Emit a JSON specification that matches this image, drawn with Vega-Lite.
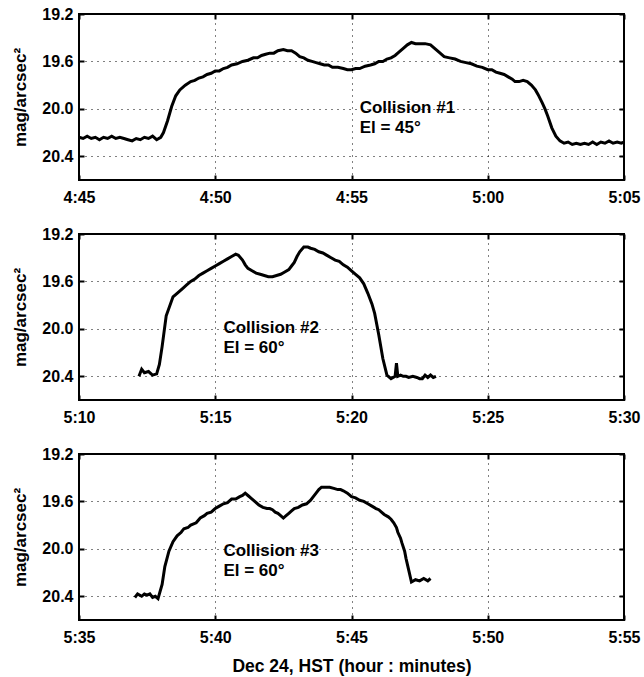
{
  "$schema": "https://vega.github.io/schema/vega-lite/v6.json",
  "background": "white",
  "padding": {"left": 10, "top": 5, "right": 10, "bottom": 5},
  "bounds": "flush",
  "spacing": 54,
  "config": {
    "font": "Liberation Sans",
    "view": {"stroke": "black", "strokeWidth": 2},
    "axis": {
      "labelFont": "Liberation Sans", "labelFontWeight": "bold", "labelFontSize": 16, "labelColor": "black",
      "titleFont": "Liberation Sans", "titleFontWeight": "bold", "titleFontSize": 17, "titleColor": "black",
      "domain": false, "ticks": false, "tickColor": "black", "tickWidth": 2, "tickSize": 5,
      "gridColor": "black", "gridDash": [1, 5], "gridWidth": 1, "gridOpacity": 1
    }
  },
  "datasets": {
    "curve": [
      {"panel": 1, "t": 285.0, "mag": 20.24}, {"panel": 1, "t": 285.15, "mag": 20.25}, {"panel": 1, "t": 285.3, "mag": 20.23}, {"panel": 1, "t": 285.45, "mag": 20.25}, {"panel": 1, "t": 285.6, "mag": 20.24}, {"panel": 1, "t": 285.75, "mag": 20.26}, {"panel": 1, "t": 285.9, "mag": 20.24}, {"panel": 1, "t": 286.05, "mag": 20.25}, {"panel": 1, "t": 286.2, "mag": 20.23}, {"panel": 1, "t": 286.35, "mag": 20.25}, {"panel": 1, "t": 286.5, "mag": 20.24}, {"panel": 1, "t": 286.65, "mag": 20.25}, {"panel": 1, "t": 286.8, "mag": 20.26}, {"panel": 1, "t": 286.95, "mag": 20.27}, {"panel": 1, "t": 287.1, "mag": 20.25}, {"panel": 1, "t": 287.25, "mag": 20.26}, {"panel": 1, "t": 287.4, "mag": 20.24}, {"panel": 1, "t": 287.55, "mag": 20.25}, {"panel": 1, "t": 287.7, "mag": 20.23}, {"panel": 1, "t": 287.85, "mag": 20.26}, {"panel": 1, "t": 288.0, "mag": 20.24}, {"panel": 1, "t": 288.1, "mag": 20.2}, {"panel": 1, "t": 288.25, "mag": 20.1}, {"panel": 1, "t": 288.4, "mag": 19.98}, {"panel": 1, "t": 288.55, "mag": 19.89}, {"panel": 1, "t": 288.7, "mag": 19.84}, {"panel": 1, "t": 288.9, "mag": 19.8}, {"panel": 1, "t": 289.1, "mag": 19.77}, {"panel": 1, "t": 289.25, "mag": 19.76}, {"panel": 1, "t": 289.4, "mag": 19.74}, {"panel": 1, "t": 289.55, "mag": 19.73}, {"panel": 1, "t": 289.7, "mag": 19.71}, {"panel": 1, "t": 289.85, "mag": 19.7}, {"panel": 1, "t": 290.0, "mag": 19.68}, {"panel": 1, "t": 290.15, "mag": 19.68}, {"panel": 1, "t": 290.3, "mag": 19.66}, {"panel": 1, "t": 290.45, "mag": 19.65}, {"panel": 1, "t": 290.6, "mag": 19.63}, {"panel": 1, "t": 290.8, "mag": 19.62}, {"panel": 1, "t": 291.0, "mag": 19.6}, {"panel": 1, "t": 291.2, "mag": 19.59}, {"panel": 1, "t": 291.4, "mag": 19.57}, {"panel": 1, "t": 291.55, "mag": 19.57}, {"panel": 1, "t": 291.7, "mag": 19.55}, {"panel": 1, "t": 291.85, "mag": 19.54}, {"panel": 1, "t": 292.0, "mag": 19.53}, {"panel": 1, "t": 292.15, "mag": 19.53}, {"panel": 1, "t": 292.3, "mag": 19.51}, {"panel": 1, "t": 292.5, "mag": 19.5}, {"panel": 1, "t": 292.65, "mag": 19.51}, {"panel": 1, "t": 292.8, "mag": 19.51}, {"panel": 1, "t": 292.95, "mag": 19.53}, {"panel": 1, "t": 293.1, "mag": 19.56}, {"panel": 1, "t": 293.25, "mag": 19.57}, {"panel": 1, "t": 293.4, "mag": 19.59}, {"panel": 1, "t": 293.55, "mag": 19.6}, {"panel": 1, "t": 293.7, "mag": 19.61}, {"panel": 1, "t": 293.85, "mag": 19.62}, {"panel": 1, "t": 294.0, "mag": 19.63}, {"panel": 1, "t": 294.15, "mag": 19.63}, {"panel": 1, "t": 294.3, "mag": 19.65}, {"panel": 1, "t": 294.5, "mag": 19.65}, {"panel": 1, "t": 294.7, "mag": 19.66}, {"panel": 1, "t": 294.85, "mag": 19.67}, {"panel": 1, "t": 295.0, "mag": 19.67}, {"panel": 1, "t": 295.15, "mag": 19.66}, {"panel": 1, "t": 295.3, "mag": 19.66}, {"panel": 1, "t": 295.5, "mag": 19.64}, {"panel": 1, "t": 295.7, "mag": 19.63}, {"panel": 1, "t": 295.85, "mag": 19.62}, {"panel": 1, "t": 296.0, "mag": 19.6}, {"panel": 1, "t": 296.15, "mag": 19.6}, {"panel": 1, "t": 296.3, "mag": 19.58}, {"panel": 1, "t": 296.45, "mag": 19.57}, {"panel": 1, "t": 296.6, "mag": 19.55}, {"panel": 1, "t": 296.75, "mag": 19.52}, {"panel": 1, "t": 296.9, "mag": 19.49}, {"panel": 1, "t": 297.05, "mag": 19.46}, {"panel": 1, "t": 297.2, "mag": 19.44}, {"panel": 1, "t": 297.35, "mag": 19.45}, {"panel": 1, "t": 297.5, "mag": 19.45}, {"panel": 1, "t": 297.7, "mag": 19.45}, {"panel": 1, "t": 297.9, "mag": 19.46}, {"panel": 1, "t": 298.05, "mag": 19.49}, {"panel": 1, "t": 298.2, "mag": 19.52}, {"panel": 1, "t": 298.4, "mag": 19.56}, {"panel": 1, "t": 298.6, "mag": 19.57}, {"panel": 1, "t": 298.8, "mag": 19.58}, {"panel": 1, "t": 299.0, "mag": 19.6}, {"panel": 1, "t": 299.2, "mag": 19.61}, {"panel": 1, "t": 299.4, "mag": 19.62}, {"panel": 1, "t": 299.6, "mag": 19.64}, {"panel": 1, "t": 299.8, "mag": 19.65}, {"panel": 1, "t": 300.0, "mag": 19.67}, {"panel": 1, "t": 300.15, "mag": 19.67}, {"panel": 1, "t": 300.3, "mag": 19.69}, {"panel": 1, "t": 300.45, "mag": 19.7}, {"panel": 1, "t": 300.6, "mag": 19.71}, {"panel": 1, "t": 300.75, "mag": 19.73}, {"panel": 1, "t": 300.9, "mag": 19.75}, {"panel": 1, "t": 301.0, "mag": 19.77}, {"panel": 1, "t": 301.15, "mag": 19.77}, {"panel": 1, "t": 301.3, "mag": 19.76}, {"panel": 1, "t": 301.45, "mag": 19.77}, {"panel": 1, "t": 301.6, "mag": 19.8}, {"panel": 1, "t": 301.75, "mag": 19.84}, {"panel": 1, "t": 301.85, "mag": 19.88}, {"panel": 1, "t": 302.0, "mag": 19.95}, {"panel": 1, "t": 302.1, "mag": 20.0}, {"panel": 1, "t": 302.2, "mag": 20.06}, {"panel": 1, "t": 302.35, "mag": 20.16}, {"panel": 1, "t": 302.5, "mag": 20.23}, {"panel": 1, "t": 302.65, "mag": 20.27}, {"panel": 1, "t": 302.8, "mag": 20.29}, {"panel": 1, "t": 302.95, "mag": 20.28}, {"panel": 1, "t": 303.1, "mag": 20.3}, {"panel": 1, "t": 303.25, "mag": 20.29}, {"panel": 1, "t": 303.4, "mag": 20.3}, {"panel": 1, "t": 303.55, "mag": 20.29}, {"panel": 1, "t": 303.7, "mag": 20.3}, {"panel": 1, "t": 303.85, "mag": 20.28}, {"panel": 1, "t": 304.0, "mag": 20.3}, {"panel": 1, "t": 304.15, "mag": 20.28}, {"panel": 1, "t": 304.3, "mag": 20.29}, {"panel": 1, "t": 304.45, "mag": 20.27}, {"panel": 1, "t": 304.6, "mag": 20.29}, {"panel": 1, "t": 304.75, "mag": 20.28}, {"panel": 1, "t": 304.9, "mag": 20.29}, {"panel": 1, "t": 305.0, "mag": 20.28},
      {"panel": 2, "t": 312.2, "mag": 20.4}, {"panel": 2, "t": 312.3, "mag": 20.34}, {"panel": 2, "t": 312.4, "mag": 20.37}, {"panel": 2, "t": 312.55, "mag": 20.36}, {"panel": 2, "t": 312.7, "mag": 20.39}, {"panel": 2, "t": 312.85, "mag": 20.38}, {"panel": 2, "t": 312.95, "mag": 20.3}, {"panel": 2, "t": 313.05, "mag": 20.15}, {"panel": 2, "t": 313.2, "mag": 19.89}, {"panel": 2, "t": 313.45, "mag": 19.73}, {"panel": 2, "t": 313.6, "mag": 19.7}, {"panel": 2, "t": 313.8, "mag": 19.66}, {"panel": 2, "t": 313.95, "mag": 19.63}, {"panel": 2, "t": 314.1, "mag": 19.6}, {"panel": 2, "t": 314.25, "mag": 19.58}, {"panel": 2, "t": 314.4, "mag": 19.55}, {"panel": 2, "t": 314.55, "mag": 19.53}, {"panel": 2, "t": 314.7, "mag": 19.51}, {"panel": 2, "t": 314.85, "mag": 19.49}, {"panel": 2, "t": 315.0, "mag": 19.47}, {"panel": 2, "t": 315.15, "mag": 19.45}, {"panel": 2, "t": 315.3, "mag": 19.43}, {"panel": 2, "t": 315.45, "mag": 19.41}, {"panel": 2, "t": 315.6, "mag": 19.39}, {"panel": 2, "t": 315.75, "mag": 19.37}, {"panel": 2, "t": 315.85, "mag": 19.38}, {"panel": 2, "t": 316.0, "mag": 19.42}, {"panel": 2, "t": 316.1, "mag": 19.46}, {"panel": 2, "t": 316.2, "mag": 19.49}, {"panel": 2, "t": 316.35, "mag": 19.51}, {"panel": 2, "t": 316.5, "mag": 19.53}, {"panel": 2, "t": 316.65, "mag": 19.54}, {"panel": 2, "t": 316.8, "mag": 19.55}, {"panel": 2, "t": 316.95, "mag": 19.56}, {"panel": 2, "t": 317.1, "mag": 19.56}, {"panel": 2, "t": 317.25, "mag": 19.55}, {"panel": 2, "t": 317.4, "mag": 19.54}, {"panel": 2, "t": 317.55, "mag": 19.52}, {"panel": 2, "t": 317.7, "mag": 19.5}, {"panel": 2, "t": 317.8, "mag": 19.47}, {"panel": 2, "t": 317.9, "mag": 19.44}, {"panel": 2, "t": 318.0, "mag": 19.39}, {"panel": 2, "t": 318.1, "mag": 19.35}, {"panel": 2, "t": 318.25, "mag": 19.31}, {"panel": 2, "t": 318.4, "mag": 19.31}, {"panel": 2, "t": 318.5, "mag": 19.32}, {"panel": 2, "t": 318.65, "mag": 19.33}, {"panel": 2, "t": 318.8, "mag": 19.35}, {"panel": 2, "t": 318.95, "mag": 19.36}, {"panel": 2, "t": 319.1, "mag": 19.38}, {"panel": 2, "t": 319.25, "mag": 19.4}, {"panel": 2, "t": 319.4, "mag": 19.42}, {"panel": 2, "t": 319.55, "mag": 19.43}, {"panel": 2, "t": 319.7, "mag": 19.46}, {"panel": 2, "t": 319.85, "mag": 19.48}, {"panel": 2, "t": 320.0, "mag": 19.51}, {"panel": 2, "t": 320.15, "mag": 19.54}, {"panel": 2, "t": 320.3, "mag": 19.57}, {"panel": 2, "t": 320.45, "mag": 19.62}, {"panel": 2, "t": 320.6, "mag": 19.7}, {"panel": 2, "t": 320.75, "mag": 19.79}, {"panel": 2, "t": 320.85, "mag": 19.87}, {"panel": 2, "t": 321.0, "mag": 20.05}, {"panel": 2, "t": 321.15, "mag": 20.25}, {"panel": 2, "t": 321.3, "mag": 20.39}, {"panel": 2, "t": 321.45, "mag": 20.42}, {"panel": 2, "t": 321.6, "mag": 20.4}, {"panel": 2, "t": 321.65, "mag": 20.29}, {"panel": 2, "t": 321.7, "mag": 20.4}, {"panel": 2, "t": 321.8, "mag": 20.39}, {"panel": 2, "t": 321.9, "mag": 20.4}, {"panel": 2, "t": 322.0, "mag": 20.4}, {"panel": 2, "t": 322.1, "mag": 20.41}, {"panel": 2, "t": 322.25, "mag": 20.4}, {"panel": 2, "t": 322.4, "mag": 20.41}, {"panel": 2, "t": 322.5, "mag": 20.42}, {"panel": 2, "t": 322.6, "mag": 20.42}, {"panel": 2, "t": 322.7, "mag": 20.39}, {"panel": 2, "t": 322.8, "mag": 20.41}, {"panel": 2, "t": 322.9, "mag": 20.39}, {"panel": 2, "t": 323.0, "mag": 20.41}, {"panel": 2, "t": 323.1, "mag": 20.4},
      {"panel": 3, "t": 337.05, "mag": 20.41}, {"panel": 3, "t": 337.15, "mag": 20.38}, {"panel": 3, "t": 337.3, "mag": 20.4}, {"panel": 3, "t": 337.4, "mag": 20.38}, {"panel": 3, "t": 337.5, "mag": 20.39}, {"panel": 3, "t": 337.6, "mag": 20.38}, {"panel": 3, "t": 337.7, "mag": 20.41}, {"panel": 3, "t": 337.8, "mag": 20.4}, {"panel": 3, "t": 337.9, "mag": 20.42}, {"panel": 3, "t": 338.05, "mag": 20.3}, {"panel": 3, "t": 338.15, "mag": 20.15}, {"panel": 3, "t": 338.3, "mag": 20.02}, {"panel": 3, "t": 338.45, "mag": 19.94}, {"panel": 3, "t": 338.6, "mag": 19.89}, {"panel": 3, "t": 338.75, "mag": 19.86}, {"panel": 3, "t": 338.85, "mag": 19.83}, {"panel": 3, "t": 339.0, "mag": 19.82}, {"panel": 3, "t": 339.1, "mag": 19.8}, {"panel": 3, "t": 339.3, "mag": 19.78}, {"panel": 3, "t": 339.45, "mag": 19.74}, {"panel": 3, "t": 339.6, "mag": 19.72}, {"panel": 3, "t": 339.7, "mag": 19.7}, {"panel": 3, "t": 339.85, "mag": 19.69}, {"panel": 3, "t": 340.0, "mag": 19.66}, {"panel": 3, "t": 340.15, "mag": 19.64}, {"panel": 3, "t": 340.3, "mag": 19.62}, {"panel": 3, "t": 340.45, "mag": 19.61}, {"panel": 3, "t": 340.6, "mag": 19.58}, {"panel": 3, "t": 340.75, "mag": 19.58}, {"panel": 3, "t": 340.9, "mag": 19.56}, {"panel": 3, "t": 341.0, "mag": 19.55}, {"panel": 3, "t": 341.1, "mag": 19.53}, {"panel": 3, "t": 341.2, "mag": 19.55}, {"panel": 3, "t": 341.3, "mag": 19.57}, {"panel": 3, "t": 341.45, "mag": 19.6}, {"panel": 3, "t": 341.6, "mag": 19.63}, {"panel": 3, "t": 341.75, "mag": 19.65}, {"panel": 3, "t": 341.9, "mag": 19.66}, {"panel": 3, "t": 342.0, "mag": 19.66}, {"panel": 3, "t": 342.1, "mag": 19.67}, {"panel": 3, "t": 342.2, "mag": 19.69}, {"panel": 3, "t": 342.3, "mag": 19.7}, {"panel": 3, "t": 342.4, "mag": 19.72}, {"panel": 3, "t": 342.5, "mag": 19.74}, {"panel": 3, "t": 342.6, "mag": 19.72}, {"panel": 3, "t": 342.7, "mag": 19.7}, {"panel": 3, "t": 342.8, "mag": 19.68}, {"panel": 3, "t": 342.9, "mag": 19.66}, {"panel": 3, "t": 343.05, "mag": 19.65}, {"panel": 3, "t": 343.2, "mag": 19.63}, {"panel": 3, "t": 343.35, "mag": 19.62}, {"panel": 3, "t": 343.5, "mag": 19.59}, {"panel": 3, "t": 343.6, "mag": 19.56}, {"panel": 3, "t": 343.7, "mag": 19.53}, {"panel": 3, "t": 343.8, "mag": 19.5}, {"panel": 3, "t": 343.9, "mag": 19.48}, {"panel": 3, "t": 344.05, "mag": 19.48}, {"panel": 3, "t": 344.2, "mag": 19.48}, {"panel": 3, "t": 344.35, "mag": 19.49}, {"panel": 3, "t": 344.5, "mag": 19.5}, {"panel": 3, "t": 344.6, "mag": 19.5}, {"panel": 3, "t": 344.7, "mag": 19.51}, {"panel": 3, "t": 344.85, "mag": 19.53}, {"panel": 3, "t": 345.0, "mag": 19.56}, {"panel": 3, "t": 345.15, "mag": 19.57}, {"panel": 3, "t": 345.3, "mag": 19.59}, {"panel": 3, "t": 345.45, "mag": 19.6}, {"panel": 3, "t": 345.6, "mag": 19.62}, {"panel": 3, "t": 345.75, "mag": 19.64}, {"panel": 3, "t": 345.9, "mag": 19.66}, {"panel": 3, "t": 346.0, "mag": 19.67}, {"panel": 3, "t": 346.1, "mag": 19.69}, {"panel": 3, "t": 346.2, "mag": 19.71}, {"panel": 3, "t": 346.35, "mag": 19.73}, {"panel": 3, "t": 346.45, "mag": 19.75}, {"panel": 3, "t": 346.55, "mag": 19.78}, {"panel": 3, "t": 346.65, "mag": 19.82}, {"panel": 3, "t": 346.7, "mag": 19.86}, {"panel": 3, "t": 346.8, "mag": 19.91}, {"panel": 3, "t": 346.85, "mag": 19.95}, {"panel": 3, "t": 346.95, "mag": 20.02}, {"panel": 3, "t": 347.0, "mag": 20.08}, {"panel": 3, "t": 347.1, "mag": 20.18}, {"panel": 3, "t": 347.2, "mag": 20.28}, {"panel": 3, "t": 347.35, "mag": 20.26}, {"panel": 3, "t": 347.5, "mag": 20.27}, {"panel": 3, "t": 347.65, "mag": 20.25}, {"panel": 3, "t": 347.8, "mag": 20.27}, {"panel": 3, "t": 347.9, "mag": 20.25}
    ],
    "labels": [
      {"panel": 1, "t": 295.3, "mag": 19.99, "label": "Collision #1\nEl = 45°"},
      {"panel": 2, "t": 315.3, "mag": 19.99, "label": "Collision #2\nEl = 60°"},
      {"panel": 3, "t": 340.3, "mag": 20.02, "label": "Collision #3\nEl = 60°"}
    ]
  },
  "vconcat": [
    {
      "width": 545, "height": 166,
      "layer": [
        {
          "data": {"name": "curve"},
          "transform": [{"filter": "datum.panel == 1"}],
          "mark": {"type": "line", "color": "black", "strokeWidth": 3},
          "encoding": {
            "x": {"field": "t", "type": "quantitative", "scale": {"domain": [285, 305], "nice": false, "zero": false},
              "axis": {"orient": "bottom", "title": null, "values": [285, 290, 295, 300, 305], "labelFlush": false, "labelPadding": 9, "grid": true,
                "labelExpr": "floor(datum.value/60) + ':' + (datum.value % 60 < 10 ? '0' : '') + (datum.value % 60)"}},
            "y": {"field": "mag", "type": "quantitative", "scale": {"domain": [19.2, 20.6], "reverse": true, "nice": false, "zero": false},
              "axis": {"orient": "left", "title": "mag/arcsec²", "titlePadding": 12, "values": [19.2, 19.6, 20.0, 20.4], "format": ".1f", "labelPadding": 6, "grid": true}}
          }
        },
        {
          "data": {"name": "labels"},
          "transform": [{"filter": "datum.panel == 1"}],
          "mark": {"type": "text", "align": "left", "baseline": "middle", "fontSize": 17, "fontWeight": "bold", "font": "Liberation Sans", "lineBreak": "\n", "lineHeight": 20, "color": "black"},
          "encoding": {
            "x": {"field": "t", "type": "quantitative", "axis": {"orient": "top", "offset": -5, "title": null, "labels": false, "grid": false, "ticks": true, "values": [285, 290, 295, 300, 305]}},
            "y": {"field": "mag", "type": "quantitative", "axis": {"orient": "right", "offset": -5, "title": null, "labels": false, "grid": false, "ticks": true, "values": [19.2, 19.6, 20.0, 20.4]}},
            "text": {"field": "label"}
          }
        },
        {
          "data": {"name": "labels"},
          "transform": [{"filter": "datum.panel == 1"}],
          "mark": {"type": "point", "opacity": 0},
          "encoding": {
            "x": {"field": "t", "type": "quantitative", "axis": {"orient": "bottom", "offset": -5, "title": null, "labels": false, "grid": false, "ticks": true, "values": [285, 290, 295, 300, 305]}},
            "y": {"field": "mag", "type": "quantitative", "axis": {"orient": "left", "offset": -5, "title": null, "labels": false, "grid": false, "ticks": true, "values": [19.2, 19.6, 20.0, 20.4]}}
          }
        }
      ],
      "resolve": {"axis": {"x": "independent", "y": "independent"}}
    },
    {
      "width": 545, "height": 166,
      "layer": [
        {
          "data": {"name": "curve"},
          "transform": [{"filter": "datum.panel == 2"}],
          "mark": {"type": "line", "color": "black", "strokeWidth": 3},
          "encoding": {
            "x": {"field": "t", "type": "quantitative", "scale": {"domain": [310, 330], "nice": false, "zero": false},
              "axis": {"orient": "bottom", "title": null, "values": [310, 315, 320, 325, 330], "labelFlush": false, "labelPadding": 9, "grid": true,
                "labelExpr": "floor(datum.value/60) + ':' + (datum.value % 60 < 10 ? '0' : '') + (datum.value % 60)"}},
            "y": {"field": "mag", "type": "quantitative", "scale": {"domain": [19.2, 20.6], "reverse": true, "nice": false, "zero": false},
              "axis": {"orient": "left", "title": "mag/arcsec²", "titlePadding": 12, "values": [19.2, 19.6, 20.0, 20.4], "format": ".1f", "labelPadding": 6, "grid": true}}
          }
        },
        {
          "data": {"name": "labels"},
          "transform": [{"filter": "datum.panel == 2"}],
          "mark": {"type": "text", "align": "left", "baseline": "middle", "fontSize": 17, "fontWeight": "bold", "font": "Liberation Sans", "lineBreak": "\n", "lineHeight": 20, "color": "black"},
          "encoding": {
            "x": {"field": "t", "type": "quantitative", "axis": {"orient": "top", "offset": -5, "title": null, "labels": false, "grid": false, "ticks": true, "values": [310, 315, 320, 325, 330]}},
            "y": {"field": "mag", "type": "quantitative", "axis": {"orient": "right", "offset": -5, "title": null, "labels": false, "grid": false, "ticks": true, "values": [19.2, 19.6, 20.0, 20.4]}},
            "text": {"field": "label"}
          }
        },
        {
          "data": {"name": "labels"},
          "transform": [{"filter": "datum.panel == 2"}],
          "mark": {"type": "point", "opacity": 0},
          "encoding": {
            "x": {"field": "t", "type": "quantitative", "axis": {"orient": "bottom", "offset": -5, "title": null, "labels": false, "grid": false, "ticks": true, "values": [310, 315, 320, 325, 330]}},
            "y": {"field": "mag", "type": "quantitative", "axis": {"orient": "left", "offset": -5, "title": null, "labels": false, "grid": false, "ticks": true, "values": [19.2, 19.6, 20.0, 20.4]}}
          }
        }
      ],
      "resolve": {"axis": {"x": "independent", "y": "independent"}}
    },
    {
      "width": 545, "height": 166,
      "layer": [
        {
          "data": {"name": "curve"},
          "transform": [{"filter": "datum.panel == 3"}],
          "mark": {"type": "line", "color": "black", "strokeWidth": 3},
          "encoding": {
            "x": {"field": "t", "type": "quantitative", "scale": {"domain": [335, 355], "nice": false, "zero": false},
              "axis": {"orient": "bottom", "title": "Dec 24, HST (hour : minutes)", "titleFontSize": 17.5, "titlePadding": 12, "values": [335, 340, 345, 350, 355], "labelFlush": false, "labelPadding": 9, "grid": true,
                "labelExpr": "floor(datum.value/60) + ':' + (datum.value % 60 < 10 ? '0' : '') + (datum.value % 60)"}},
            "y": {"field": "mag", "type": "quantitative", "scale": {"domain": [19.2, 20.6], "reverse": true, "nice": false, "zero": false},
              "axis": {"orient": "left", "title": "mag/arcsec²", "titlePadding": 12, "values": [19.2, 19.6, 20.0, 20.4], "format": ".1f", "labelPadding": 6, "grid": true}}
          }
        },
        {
          "data": {"name": "labels"},
          "transform": [{"filter": "datum.panel == 3"}],
          "mark": {"type": "text", "align": "left", "baseline": "middle", "fontSize": 17, "fontWeight": "bold", "font": "Liberation Sans", "lineBreak": "\n", "lineHeight": 20, "color": "black"},
          "encoding": {
            "x": {"field": "t", "type": "quantitative", "axis": {"orient": "top", "offset": -5, "title": null, "labels": false, "grid": false, "ticks": true, "values": [335, 340, 345, 350, 355]}},
            "y": {"field": "mag", "type": "quantitative", "axis": {"orient": "right", "offset": -5, "title": null, "labels": false, "grid": false, "ticks": true, "values": [19.2, 19.6, 20.0, 20.4]}},
            "text": {"field": "label"}
          }
        },
        {
          "data": {"name": "labels"},
          "transform": [{"filter": "datum.panel == 3"}],
          "mark": {"type": "point", "opacity": 0},
          "encoding": {
            "x": {"field": "t", "type": "quantitative", "axis": {"orient": "bottom", "offset": -5, "title": null, "labels": false, "grid": false, "ticks": true, "values": [335, 340, 345, 350, 355]}},
            "y": {"field": "mag", "type": "quantitative", "axis": {"orient": "left", "offset": -5, "title": null, "labels": false, "grid": false, "ticks": true, "values": [19.2, 19.6, 20.0, 20.4]}}
          }
        }
      ],
      "resolve": {"axis": {"x": "independent", "y": "independent"}}
    }
  ]
}
